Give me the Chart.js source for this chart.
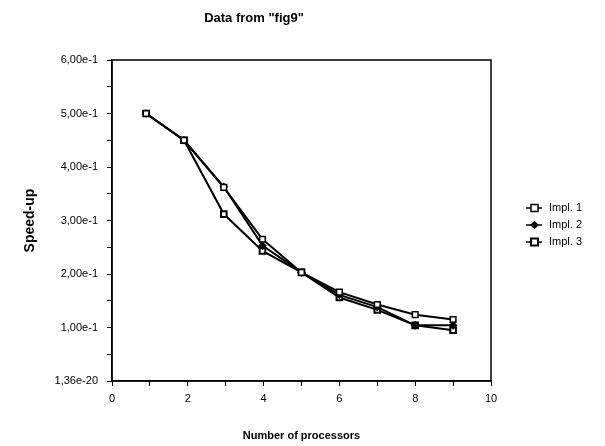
<!DOCTYPE html>
<html>
<head>
<meta charset="utf-8">
<script src="https://cdn.jsdelivr.net/npm/chart.js@4.4.1/dist/chart.umd.min.js"></script>
<style>
html,body{margin:0;padding:0;background:#fff;}
#wrap{width:605px;height:446px;position:relative;}
</style>
</head>
<body>
<div id="wrap"><canvas id="c" width="605" height="446"></canvas></div>
<script>
const chartTitle = 'Data from "fig9"';
const xTitle = 'Number of processors';
const yTitle = 'Speed-up';
const processors = [0.9, 1.9, 2.95, 3.97, 5, 6, 7, 8, 9];
const impl1 = [0.500, 0.450, 0.362, 0.265, 0.203, 0.166, 0.143, 0.124, 0.115];
const impl2 = [0.500, 0.450, 0.363, 0.253, 0.203, 0.161, 0.138, 0.104, 0.104];
const impl3 = [0.500, 0.450, 0.312, 0.243, 0.203, 0.156, 0.133, 0.104, 0.095];
const seriesNames = ['Impl. 1', 'Impl. 2', 'Impl. 3'];
const yTickLabels = ['1,36e-20', '1,00e-1', '2,00e-1', '3,00e-1', '4,00e-1', '5,00e-1', '6,00e-1'];
const xTickLabels = ['0', '2', '4', '6', '8', '10'];

const FONT = "'Liberation Sans', Arial, Helvetica, sans-serif";

function toPoints(arr){ return arr.map((v,i)=>({x:processors[i], y:v})); }

const styles = [
  {pointStyle:'rect', bg:'#fff', r:4, bw:1.5},
  {pointStyle:'rectRot', bg:'#000', r:3.5, bw:1.2},
  {pointStyle:'rect', bg:'#fff', r:4, bw:2}
];
const allSeries = [impl1, impl2, impl3];

const datasets = allSeries.map((s,i)=>({
  label: seriesNames[i],
  data: toPoints(s),
  borderColor:'#000',
  borderWidth:2,
  pointStyle: styles[i].pointStyle,
  pointRadius: styles[i].r,
  pointBackgroundColor: styles[i].bg,
  pointBorderColor:'#000',
  pointBorderWidth: styles[i].bw,
  showLine:true,
  tension:0,
  fill:false
}));

const framePlugin = {
  id:'frame',
  afterDatasetsDraw(chart){
    const {ctx, chartArea:a} = chart;
    ctx.save();
    ctx.strokeStyle='#000';
    ctx.lineWidth=1.5;
    ctx.strokeRect(a.left, a.top, a.right-a.left, a.bottom-a.top);
    ctx.restore();
  },
  afterDraw(chart){
    const ctx = chart.ctx;
    ctx.save();
    ctx.fillStyle='#000';
    ctx.font = "bold 13px " + FONT;
    ctx.textAlign='center';
    ctx.textBaseline='middle';
    ctx.fillText(chartTitle, 254, 18);
    ctx.font = "11px " + FONT;
    ctx.textAlign='left';
    const ys=[208,225,242];
    seriesNames.forEach((n,i)=>{
      const y=ys[i];
      ctx.strokeStyle='#000';
      ctx.lineWidth=1.5;
      ctx.beginPath(); ctx.moveTo(526,y); ctx.lineTo(542,y); ctx.stroke();
      const st=styles[i];
      ctx.fillStyle=st.bg;
      ctx.lineWidth=st.bw;
      if(st.pointStyle==='rect'){
        ctx.fillRect(531,y-3.5,7,7); ctx.strokeRect(531,y-3.5,7,7);
      } else {
        ctx.beginPath(); ctx.moveTo(534.5,y-3.5); ctx.lineTo(538,y); ctx.lineTo(534.5,y+3.5); ctx.lineTo(531,y); ctx.closePath(); ctx.fill(); ctx.stroke();
      }
      ctx.fillStyle='#000';
      ctx.fillText(n, 549, y);
    });
    ctx.restore();
  }
};

new Chart(document.getElementById('c'), {
  type:'scatter',
  data:{datasets},
  plugins:[framePlugin],
  options:{
    responsive:false,
    animation:false,
    layout:{padding:{left:0, right:114, top:60, bottom:0}},
    plugins:{legend:{display:false}, title:{display:false}, tooltip:{enabled:false}},
    scales:{
      x:{
        type:'linear', min:0, max:10,
        ticks:{stepSize:1, color:'#000', font:{family:FONT, size:11}, padding:6,
          maxRotation:0, autoSkip:false,
          callback:(v)=> (v%2===0) ? xTickLabels[v/2] : ''},
        grid:{drawOnChartArea:false, color:'#000', tickLength:5, lineWidth:1},
        border:{color:'#000', width:1.5},
        title:{display:true, text:xTitle, color:'#000', font:{family:FONT, size:11, weight:'bold'}, padding:{top:0, bottom:3}},
        afterFit:(s)=>{ s.height = 65; }
      },
      y:{
        type:'linear', min:0, max:0.6,
        ticks:{stepSize:0.05, color:'#000', font:{family:FONT, size:11}, padding:9, autoSkip:false,
          callback:(v, i)=> (i%2===0) ? yTickLabels[i/2] : ''},
        grid:{drawOnChartArea:false, color:'#000', tickLength:5, lineWidth:1},
        border:{color:'#000', width:1.5},
        title:{display:true, text:yTitle, color:'#000', font:{family:FONT, size:14, weight:'bold'}, padding:{top:22, bottom:0}},
        afterFit:(s)=>{ s.width = 112; }
      }
    }
  }
});
</script>
</body>
</html>
